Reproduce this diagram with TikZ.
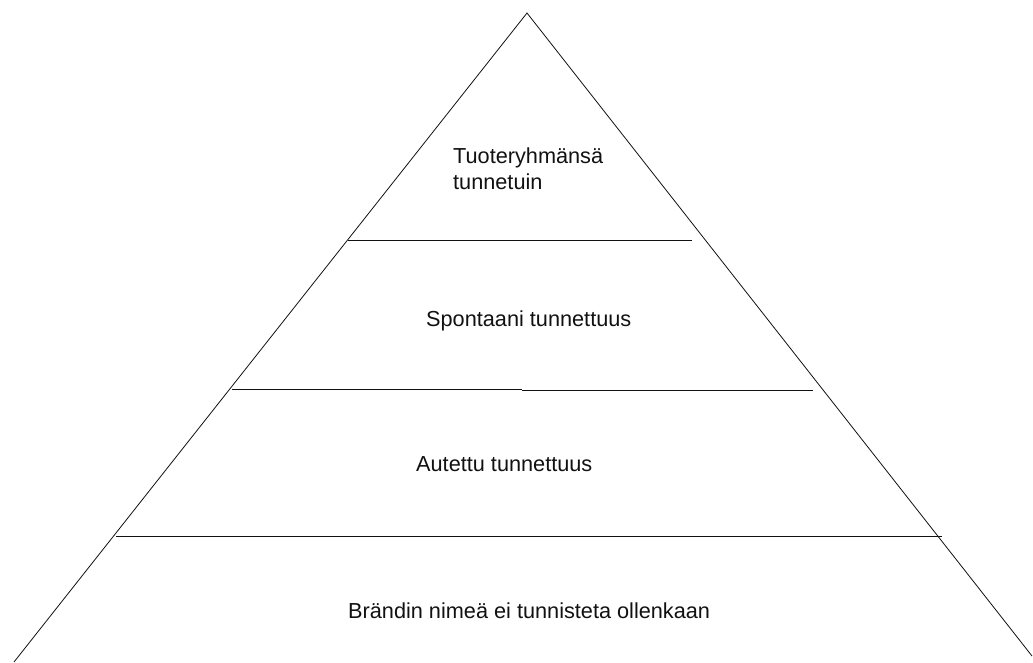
\documentclass[tikz,border=0pt]{standalone}
\usepackage{fontspec}
\setmainfont{Liberation Sans}
\definecolor{PyrInk}{HTML}{111111}
\tikzset{
  pyr/edge/.style={draw=PyrInk, line width=.8pt, line join=miter},
  pyr/tier/.style={draw=PyrInk, line width=1pt},
  pyr/label/.style={
    anchor=base west, inner sep=0pt, align=left,
    font=\fontsize{21.7}{26}\selectfont, text=PyrInk
  }
}

\begin{document}
\begin{tikzpicture}[x=1pt,y=-1pt]
  \useasboundingbox (0,0) rectangle (1033,662);
  \coordinate (apex) at (527,13);
  \coordinate (baseL) at (14,662);
  \coordinate (baseR) at (1032,656);
  \draw[pyr/edge] (baseL) -- (apex) -- (baseR);
  % tier dividers
  \draw[pyr/tier] (348,240) -- (692,240);
  \draw[pyr/tier] (232,389) -- (522,389);
  \draw[pyr/tier] (522,390.5) -- (813,390.5);
  \draw[pyr/tier] (116,536) -- (942,536);
  % tier labels (base = last line)
  \node[pyr/label] (tierTop) at (453,189) {Tuoteryhmänsä\\tunnetuin};
  \node[pyr/label] (tierSpont) at (426,326) {Spontaani tunnettuus};
  \node[pyr/label] (tierAided) at (416,471) {Autettu tunnettuus};
  \node[pyr/label] (tierNone) at (348,618) {Brändin nimeä ei tunnisteta ollenkaan};
\end{tikzpicture}
\end{document}
